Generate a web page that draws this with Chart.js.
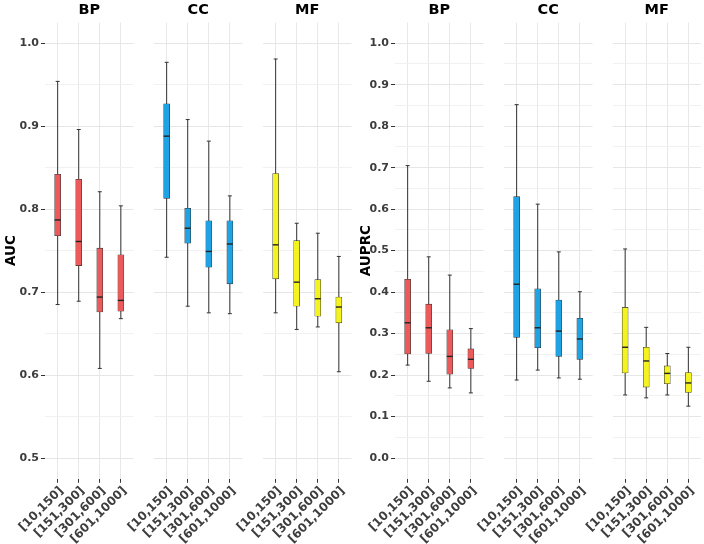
<!DOCTYPE html>
<html><head><meta charset="utf-8">
<script src="https://cdn.jsdelivr.net/npm/chart.js@4.4.1/dist/chart.umd.min.js"></script>
<style>
html,body{margin:0;padding:0;background:#fff;}
#wrap{position:relative;width:704px;height:544px;overflow:hidden;}
#wrap canvas{position:absolute;left:0;top:0;}
</style>
</head><body><div id="wrap"></div>
<script>
// ---------- data ----------
const categories = ['[10,150]', '[151,300]', '[301,600]', '[601,1000]'];
const facets = ['BP', 'CC', 'MF'];

const aucTicks = [0.5, 0.6, 0.7, 0.8, 0.9, 1.0];
const aucTickLabels = ['0.5', '0.6', '0.7', '0.8', '0.9', '1.0'];
const aucMinor = [0.55, 0.65, 0.75, 0.85, 0.95];

const auprcTicks = [0.0, 0.1, 0.2, 0.3, 0.4, 0.5, 0.6, 0.7, 0.8, 0.9, 1.0];
const auprcTickLabels = ['0.0', '0.1', '0.2', '0.3', '0.4', '0.5', '0.6', '0.7', '0.8', '0.9', '1.0'];
const auprcMinor = [0.05, 0.15, 0.25, 0.35, 0.45, 0.55, 0.65, 0.75, 0.85, 0.95];

// five-number summaries per category: [lower whisker, Q1, median, Q3, upper whisker]
const aucBP = [[0.685, 0.768, 0.787, 0.842, 0.954], [0.689, 0.732, 0.761, 0.836, 0.896], [0.608, 0.676, 0.694, 0.753, 0.821], [0.668, 0.677, 0.690, 0.745, 0.804]];
const aucCC = [[0.742, 0.813, 0.888, 0.927, 0.977], [0.683, 0.759, 0.777, 0.801, 0.908], [0.675, 0.730, 0.749, 0.786, 0.882], [0.674, 0.710, 0.758, 0.786, 0.816]];
const aucMF = [[0.675, 0.716, 0.757, 0.843, 0.981], [0.655, 0.683, 0.712, 0.762, 0.783], [0.658, 0.671, 0.692, 0.715, 0.771], [0.604, 0.663, 0.682, 0.694, 0.743]];

const auprcBP = [[0.224, 0.251, 0.326, 0.431, 0.705], [0.185, 0.252, 0.314, 0.371, 0.485], [0.169, 0.202, 0.245, 0.309, 0.441], [0.157, 0.216, 0.238, 0.263, 0.312]];
const auprcCC = [[0.188, 0.291, 0.419, 0.630, 0.852], [0.212, 0.266, 0.314, 0.408, 0.612], [0.193, 0.245, 0.306, 0.381, 0.497], [0.190, 0.238, 0.287, 0.337, 0.401]];
const auprcMF = [[0.152, 0.205, 0.267, 0.363, 0.504], [0.145, 0.171, 0.234, 0.267, 0.315], [0.152, 0.179, 0.204, 0.222, 0.252], [0.125, 0.158, 0.181, 0.206, 0.267]];

const facetColors = ['#EC5B5B', '#1FA3E4', '#F4F320'];

// ---------- layout ----------
const W = 704, H = 544;
const PLOT_BOTTOM = 478.75;
const leftPanels = [[45, 133.5], [154, 242.5], [263, 351.5]];
const rightPanels = [[395, 483.5], [504, 592.5], [612.5, 701]];

Chart.defaults.font.family = "'DejaVu Sans', Verdana, sans-serif";
Chart.defaults.animation = false;

const boxPlugin = {
  id: 'boxWhiskers',
  beforeDatasetsDraw(chart) {
    const ds = chart.data.datasets[0];
    const xs = chart.scales.x, ys = chart.scales.y;
    const ctx = chart.ctx;
    ctx.save();
    ctx.strokeStyle = '#333';
    ctx.lineWidth = 1;
    ds.stats.forEach((s, i) => {
      const x = xs.getPixelForValue(i);
      ctx.beginPath();
      ctx.moveTo(x, ys.getPixelForValue(s[0]));
      ctx.lineTo(x, ys.getPixelForValue(s[4]));
      ctx.stroke();
      [s[0], s[4]].forEach(v => {
        const y = ys.getPixelForValue(v);
        ctx.beginPath();
        ctx.moveTo(x - 2, y);
        ctx.lineTo(x + 2, y);
        ctx.stroke();
      });
    });
    ctx.restore();
  },
  afterDatasetsDraw(chart) {
    const ds = chart.data.datasets[0];
    const meta = chart.getDatasetMeta(0);
    const xs = chart.scales.x, ys = chart.scales.y;
    const ctx = chart.ctx;
    ctx.save();
    ctx.strokeStyle = '#222';
    ctx.lineWidth = 1.4;
    ds.stats.forEach((s, i) => {
      const x = xs.getPixelForValue(i);
      const hw = meta.data[i].width / 2;
      const y = ys.getPixelForValue(s[2]);
      ctx.beginPath();
      ctx.moveTo(x - hw, y);
      ctx.lineTo(x + hw, y);
      ctx.stroke();
    });
    ctx.restore();
  }
};

function near(arr, v) { return arr.findIndex(m => Math.abs(m - v) < 1e-9); }

function makeChart(o) {
  const canvas = document.createElement('canvas');
  canvas.width = W; canvas.height = H;
  canvas.style.width = W + 'px'; canvas.style.height = H + 'px';
  document.getElementById('wrap').appendChild(canvas);
  const [L, R] = o.panel;
  const allTicks = o.majors.concat(o.minors).sort((a, b) => a - b);
  return new Chart(canvas, {
    type: 'bar',
    data: {
      datasets: [{
        data: o.stats.map((s, i) => ({ x: i, y: [s[1], s[3]] })),
        stats: o.stats,
        backgroundColor: o.color,
        borderColor: '#333',
        borderWidth: 0.6,
        borderSkipped: false,
        barThickness: 6
      }]
    },
    options: {
      responsive: false,
      devicePixelRatio: 1,
      events: [],
      layout: { padding: { left: o.hasAxis ? o.axisLeft : L, right: W - R, top: 0, bottom: 0 } },
      plugins: {
        legend: { display: false },
        tooltip: { enabled: false },
        title: {
          display: true, text: o.title, fullSize: false, color: '#000',
          font: { size: 14.5, weight: 'bold', lineHeight: 1.2 },
          padding: { top: 1.5, bottom: 3.6 }
        }
      },
      scales: {
        x: {
          type: 'linear', min: -0.6, max: 3.6, offset: false,
          afterBuildTicks: s => { s.ticks = categories.map((_, i) => ({ value: i })); },
          afterFit: s => { s.height = H - PLOT_BOTTOM; },
          ticks: {
            autoSkip: false, minRotation: 45, maxRotation: 45, padding: 1, labelOffset: 4,
            color: '#3d3d3d', font: { size: 12, weight: 'bold' },
            callback: (v, i) => categories[i]
          },
          grid: { color: '#e8e8e8', lineWidth: 1, offset: false, drawTicks: true, tickLength: 4, tickColor: '#333' },
          border: { display: false }
        },
        y: {
          type: 'linear', min: o.yMin, max: o.yMax,
          afterBuildTicks: s => { s.ticks = allTicks.map(v => ({ value: v })); },
          afterFit: s => { s.width = o.hasAxis ? L - o.axisLeft : 0; },
          ticks: {
            display: o.hasAxis, padding: 2, color: '#3d3d3d',
            font: { size: 11, weight: 'bold' },
            callback: v => { const k = near(o.majors, v); return k >= 0 ? o.labels[k] : ''; }
          },
          grid: {
            color: c => (c.tick && near(o.majors, c.tick.value) >= 0) ? '#e6e6e6' : '#f1f1f1',
            lineWidth: 1,
            drawTicks: o.hasAxis, tickLength: 4,
            tickColor: c => (c.tick && near(o.majors, c.tick.value) >= 0) ? '#333' : 'rgba(0,0,0,0)'
          },
          border: { display: false },
          title: {
            display: o.hasAxis, text: o.axisTitle || '', color: '#000',
            font: { size: 13.5, weight: 'bold', lineHeight: 1.2 },
            padding: { top: 3, bottom: 0 }
          }
        }
      }
    },
    plugins: [boxPlugin]
  });
}

const aucStats = [aucBP, aucCC, aucMF];
const auprcStats = [auprcBP, auprcCC, auprcMF];

facets.forEach((f, k) => {
  makeChart({
    stats: aucStats[k], color: facetColors[k], title: f, panel: leftPanels[k],
    hasAxis: k === 0, axisLeft: 0, axisTitle: 'AUC',
    yMin: 0.475, yMax: 1.025, majors: aucTicks, labels: aucTickLabels, minors: aucMinor
  });
  makeChart({
    stats: auprcStats[k], color: facetColors[k], title: f, panel: rightPanels[k],
    hasAxis: k === 0, axisLeft: 355, axisTitle: 'AUPRC',
    yMin: -0.05, yMax: 1.05, majors: auprcTicks, labels: auprcTickLabels, minors: auprcMinor
  });
});
</script>
</body></html>
